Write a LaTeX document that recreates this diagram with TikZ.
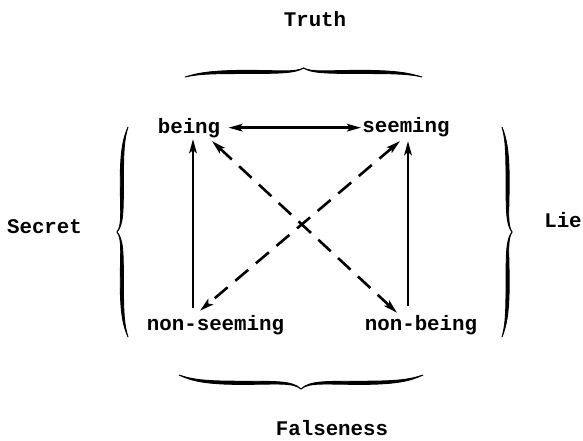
\documentclass[tikz,border=0pt]{standalone}
\usepackage{fontspec}
\setmonofont{Liberation Mono}
\usetikzlibrary{arrows.meta,calc}
\begin{document}
\begin{tikzpicture}[x=1pt,y=-1pt,
  lbl/.style={font=\ttfamily\bfseries\fontsize{20.8}{24}\selectfont, inner sep=0pt, anchor=base},
  arr/.style={line width=2.6pt, -{Stealth[length=14pt,width=7.5pt,inset=3pt]}},
  darr/.style={line width=2.6pt, {Stealth[length=14pt,width=7.5pt,inset=3pt]}-{Stealth[length=14pt,width=7.5pt,inset=3pt]}},
  dash2/.style={darr, dash pattern=on 17pt off 10pt},
  pics/cbrace/.style n args={2}{code={
    \foreach \s in {1,-1}{
      \filldraw[xscale=\s, line width=0.9pt, line join=round]
        (-#1,0) .. controls (-0.9*#1,-0.4*#2) and (-0.8*#1,-0.55*#2-1.5) .. (-0.5*#1,-0.55*#2-1.7)
        .. controls (-0.2*#1,-0.55*#2-1.7) and (-0.07*#1,-0.5*#2) .. (0,-#2)
        .. controls (-0.07*#1,-0.4*#2) and (-0.2*#1,-0.55*#2+1.3) .. (-0.5*#1,-0.55*#2+1.5)
        .. controls (-0.8*#1,-0.55*#2+1.4) and (-0.9*#1,-0.3*#2) .. cycle;
    }
  }}
]
\useasboundingbox (0,0) rectangle (583,441);
\fill[white] (0,0) rectangle (583,441);
% labels
\node[lbl] (truth) at (315,27) {Truth};
\node[lbl] (false) at (332,435) {Falseness};
\node[lbl] (secret) at (44.5,233) {Secret};
\node[lbl] (lie) at (563,227) {Lie};
\node[lbl] (being) at (189,133) {being};
\node[lbl] (seeming) at (406,132) {seeming};
\node[lbl] (nsm) at (215.5,330) {non-seeming};
\node[lbl] (nbe) at (421,330) {non-being};
% braces
\pic at (303.5,77) {cbrace={118.5}{9}};
\pic[rotate=180] at (301,375) {cbrace={122}{14}};
\pic[rotate=90] at (128,232) {cbrace={105}{11}};
\pic[rotate=-90] at (502,232) {cbrace={105}{10}};
% arrows
\draw[darr, shorten <=8pt, shorten >=1pt] (being.east) -- (being.east -| seeming.west);
\draw[arr, shorten <=7pt, shorten >=1.5pt] ([xshift=4pt]being.south |- nsm.north) -- ([xshift=4pt]being.south);
\draw[arr, shorten <=9pt, shorten >=4.5pt] ([xshift=2pt]seeming.south |- nbe.north) -- ([xshift=2pt]seeming.south);
\draw[dash2] ([xshift=-6pt,yshift=-4.5pt]seeming.south) -- ([xshift=-15.5pt,yshift=4pt]nsm.north);
\draw[dash2] ([xshift=23pt,yshift=-3.5pt]being.south) -- ([xshift=-24pt,yshift=2pt]nbe.north);
\end{tikzpicture}
\end{document}
